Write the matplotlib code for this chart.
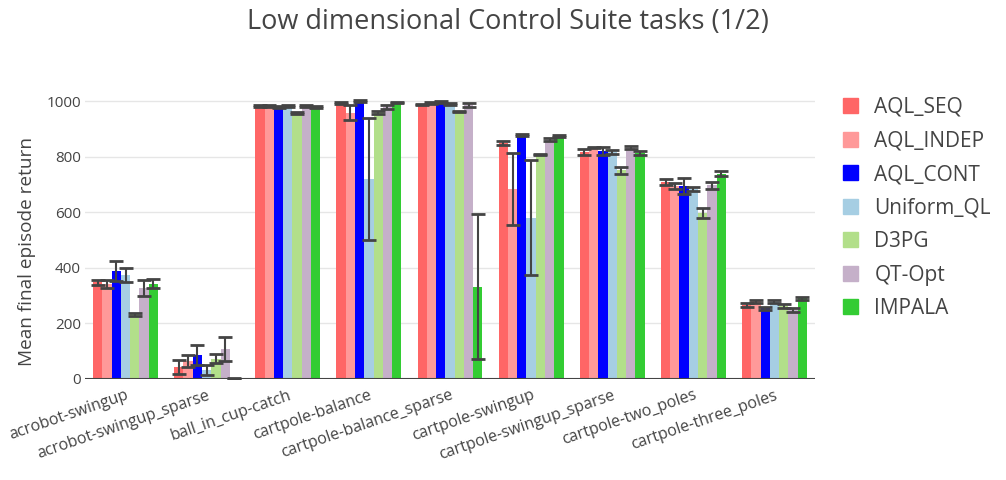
import numpy as np
import matplotlib
matplotlib.use("Agg")
import matplotlib.pyplot as plt
from matplotlib.patches import Patch

plt.rcParams['font.family'] = ['Open Sans', 'DejaVu Sans']

# tasks and methods
tasks = ['acrobot-swingup', 'acrobot-swingup_sparse', 'ball_in_cup-catch',
         'cartpole-balance', 'cartpole-balance_sparse', 'cartpole-swingup',
         'cartpole-swingup_sparse', 'cartpole-two_poles', 'cartpole-three_poles']
methods = ['AQL_SEQ', 'AQL_INDEP', 'AQL_CONT', 'Uniform_QL', 'D3PG', 'QT-Opt', 'IMPALA']

# mean final episode return per method
aql_seq = [348, 43, 982, 993, 988, 850, 817, 709, 266]
aql_indep = [341, 65, 983, 958, 995, 685, 834, 695, 280]
aql_cont = [389, 87, 980, 1000, 998, 879, 822, 696, 254]
uniform_ql = [375, 32, 982, 721, 990, 581, 818, 685, 279]
d3pg = [233, 73, 958, 960, 963, 808, 751, 597, 262]
qt_opt = [328, 109, 982, 980, 988, 862, 833, 698, 249]
impala = [343, 2, 980, 996, 332, 874, 814, 740, 290]

# error bars
aql_seq_err = [8, 26, 3, 3, 3, 6, 12, 12, 7]
aql_indep_err = [15, 22, 3, 27, 3, 130, 3, 10, 6]
aql_cont_err = [35, 35, 3, 3, 3, 3, 15, 28, 5]
uniform_ql_err = [25, 18, 3, 220, 5, 207, 8, 8, 5]
d3pg_err = [6, 17, 3, 5, 3, 3, 12, 18, 7]
qt_opt_err = [28, 44, 3, 8, 7, 5, 5, 13, 7]
impala_err = [16, 2, 3, 3, 261, 3, 6, 10, 4]

values = [aql_seq, aql_indep, aql_cont, uniform_ql, d3pg, qt_opt, impala]
errors = [aql_seq_err, aql_indep_err, aql_cont_err, uniform_ql_err,
          d3pg_err, qt_opt_err, impala_err]
colors = ['#ff6666', '#ff9999', '#0000ff', '#a6cee3', '#b2df8a', '#c5b0c9', '#33cc33']

fig = plt.figure(figsize=(10.06, 4.8), dpi=100)
ax = fig.add_axes([85 / 1006, 1 - 379 / 480, 730 / 1006, 291 / 480])

x = np.arange(len(tasks))
n = len(methods)
w = 0.8 / n
for i in range(n):
    pos = x - 0.4 + w * (i + 0.5)
    ax.bar(pos, values[i], width=w, color=colors[i], zorder=2)
    ax.errorbar(pos, values[i], yerr=errors[i], fmt='none', ecolor='#444444',
                elinewidth=1.5, capsize=5, capthick=2, zorder=3)

ax.set_xlim(-0.5, len(tasks) - 0.5)
ax.set_ylim(0, 1048)
ax.set_yticks([0, 200, 400, 600, 800, 1000])
ax.yaxis.grid(True, color='#e6e6e6', lw=1, zorder=0)
ax.axhline(0, color='#444444', lw=1.5, zorder=4)
for s in ax.spines.values():
    s.set_visible(False)
ax.tick_params(axis='y', length=0, pad=3, labelsize=11, labelcolor='#444444')
ax.tick_params(axis='x', length=0, pad=6, labelsize=11.5, labelcolor='#444444')
ax.set_xticks(x)
ax.set_xticklabels(tasks, rotation=19, ha='right', va='top', rotation_mode='anchor')

fig.text(0.505, 1 - 22 / 480, 'Low dimensional Control Suite tasks (1/2)',
         ha='center', va='center', fontsize=19.5, color='#444444')
fig.text(27 / 1006, 1 - 252 / 480, 'Mean final episode return', rotation=90,
         ha='center', va='center', fontsize=13.7, color='#444444')

handles = [Patch(color=c) for c in colors]
fig.legend(handles, methods, loc='upper left', bbox_to_anchor=(843 / 1006, 1 - 97 / 480),
           frameon=False, fontsize=15, labelcolor='#444444', handlelength=0.7,
           handleheight=0.7, handletextpad=0.8, labelspacing=0.6, borderpad=0,
           borderaxespad=0)

fig.savefig('out.png', dpi=100)
